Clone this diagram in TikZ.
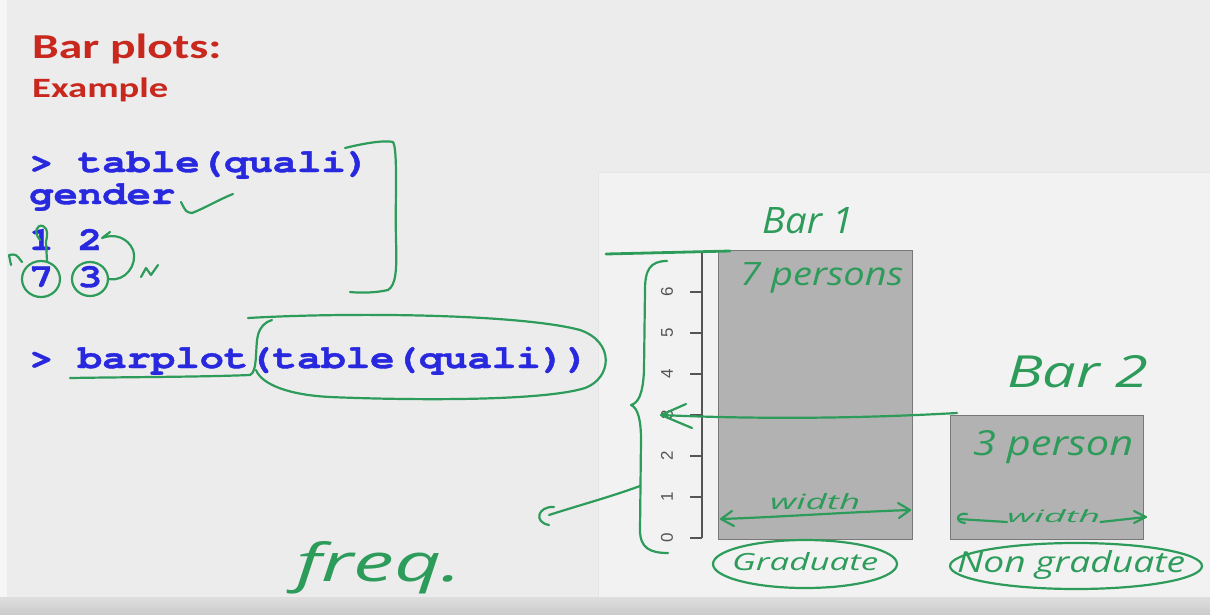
\documentclass[tikz,border=0pt]{standalone}
\usepackage{fontspec}
\usepackage{graphicx}
\usetikzlibrary{shapes.geometric}
\newfontfamily\titlefont{Carlito}
\newfontfamily\codefont{TeX Gyre Cursor}[BoldFeatures={FakeBold=1.2}]
\newfontfamily\axisfont{Liberation Sans}
\newfontfamily\handfont{Open Sans}
\definecolor{slidebg}{RGB}{236,236,236}
\definecolor{panelbg}{RGB}{242,242,242}
\definecolor{titlered}{RGB}{200,40,30}
\definecolor{codeblue}{RGB}{40,40,222}
\definecolor{ink}{RGB}{45,155,90}
\definecolor{barfill}{RGB}{178,178,178}
\definecolor{barline}{RGB}{120,120,120}
\definecolor{axisgray}{RGB}{85,85,85}
% handwritten word, stretched to a given width and height
\newcommand\hw[3]{\resizebox{#1pt}{#2pt}{\handfont\itshape #3}}

\begin{document}
\begin{tikzpicture}[x=1pt,y=-1pt,
  pen/.style={draw=ink,line width=2.2pt,line cap=round,line join=round},
  code/.style={anchor=base west,inner sep=0pt,text=codeblue,
    font=\codefont\bfseries\fontsize{33}{33}\selectfont},
  title/.style={anchor=base west,inner sep=0pt,text=titlered},
  hand/.style={anchor=base west,inner sep=0pt,text=ink},
  bar/.style={fill=barfill,draw=barline,line width=1.4pt,anchor=north west,inner sep=0pt},
  ticklab/.style={rotate=90,inner sep=0pt,text=axisgray,
    font=\axisfont\fontsize{17}{17}\selectfont},
  oval/.style={pen,ellipse,inner sep=0pt}
]
% slide background
\useasboundingbox (0,0) rectangle (1210,614);
\fill[slidebg] (0,0) rectangle (1210,614);
\fill[white!55!slidebg] (0,0) rectangle (7,597);
\fill[panelbg] (598,172) rectangle (1210,597);
\draw[black!10,line width=1pt] (598,597) |- (1210,172);
\shade[top color=black!13,bottom color=black!20] (0,597) rectangle (1210,614);

% title
\node[title,font=\titlefont\bfseries\fontsize{35}{35}\selectfont] (ttl) at (32,58)
  {\scalebox{1.36}[1]{Bar plots:}};
\node[title,font=\titlefont\bfseries\fontsize{28}{28}\selectfont] (sub) at (32,97)
  {\scalebox{1.38}[1]{Example}};

% R console lines
\node[code] (cmd1) at (29,172) {\scalebox{1.23}[1]{> table(quali)}};
\node[code] (hdr) at (29,204) {\scalebox{1.23}[1]{gender}};
\node[code] (lvl) at (29,250) {\scalebox{1.23}[1]{1 2}};
\node[code] (cnt) at (29,287) {\scalebox{1.23}[1]{7 3}};
\node[code] (cmd2) at (29,368) {\scalebox{1.23}[1]{> barplot(table(quali))}};

% bar chart
\draw[axisgray,line width=1.2pt] (702,251) -- (702,538);
\foreach \v in {0,...,6}{
  \draw[axisgray,line width=1.2pt] (690,{538-41*\v}) -- (702,{538-41*\v});
  \node[ticklab] (tick\v) at (667,{538-41*\v}) {\v};
}
\node[bar,minimum width=194pt,minimum height=289pt] (bar1) at (718,250) {};
\node[bar,minimum width=193pt,minimum height=124pt] (bar2) at (950,415) {};

% pen notes on the console
\draw[pen] (181,202) .. controls (186,212) .. (192,213) .. controls (205,208) and (220,199) .. (233,194);
\draw[pen] (40,240) .. controls (33,232) and (37,224) .. (43,226) .. controls (49,229) and (47,236) .. (46,242) -- (47,261);
\draw[pen] (22,262) .. controls (16,254) .. (9,255) (9,255) -- (11,265);
\node[oval,minimum width=38pt,minimum height=36pt] (c7) at (41,279) {};
\node[oval,minimum width=36pt,minimum height=34pt] (c3) at (90,279) {};
\draw[pen] (c3.east) .. controls (125,282) and (138,265) .. (133,250)
  .. controls (128,238) and (115,233) .. (102,238) (102,238) -- (110,232);
\draw[pen] (141,277) -- (146,268) -- (151,275) -- (158,265);
\draw[pen] (345,148) .. controls (365,143) and (385,140) .. (393,142)
  .. controls (398,150) and (395,200) .. (396,240)
  .. controls (397,270) and (396,285) .. (388,290)
  .. controls (375,293) and (360,293) .. (350,292);
\draw[pen] (70,378) .. controls (130,377) and (200,377) .. (250,375)
  .. controls (258,372) and (255,345) .. (258,335)
  .. controls (260,327) and (265,322) .. (272,320);
\draw[pen] (248,318) .. controls (350,312) and (520,314) .. (580,330)
  .. controls (615,342) and (612,378) .. (585,388)
  .. controls (540,402) and (400,400) .. (330,397)
  .. controls (290,395) and (262,385) .. (256,370);
\node[hand] (freq) at (296,581) {\hw{166}{40}{freq.}};

% pen notes on the chart
\coordinate (ymax) at (606,254);
\coordinate (topend) at (730,251);
\draw[pen,line width=2.8pt] (ymax) -- (topend);
\draw[pen] (667,261) .. controls (650,261) and (645,270) .. (645,290) -- (644,370)
  .. controls (643,395) and (638,403) .. (631,405)
  .. controls (638,408) and (641,420) .. (641,440) -- (640,530)
  .. controls (640,548) and (650,553) .. (668,553);
\coordinate (bracefoot) at (640,486);
\coordinate (freqmark) at (549,515);
\draw[pen] (bracefoot) .. controls (610,497) and (580,505) .. (freqmark);
\draw[pen] (554,507) .. controls (538,506) and (533,522) .. (549,525);
\coordinate (b2start) at (957,413);
\coordinate (tip3) at (661,415);
\draw[pen] (b2start) .. controls (850,419) and (750,419) .. (tip3)
  (686,404) -- (tip3) -- (692,428);

\node[hand] (lab1) at (762,233) {\hw{91}{26}{Bar 1}};
\node[hand] (pers7) at (740,285) {\hw{163}{23}{7 persons}};
\node[hand] (lab2) at (1007,387) {\hw{141}{32}{Bar 2}};
\node[hand] (pers3) at (973,455) {\hw{160}{25}{3 person}};

\coordinate (w1l) at (721,519);
\coordinate (w1r) at (910,510);
\draw[pen] (w1l) .. controls (780,517) and (850,512) .. (w1r)
  (732,511) -- (w1l) -- (734,526) (898,503) -- (w1r) -- (899,518);
\node[hand] (wid1) at (770,509) {\hw{90}{16}{width}};
\node[hand] (wid2) at (1007,522) {\hw{93}{13}{width}};
\coordinate (w2l) at (958,519);
\coordinate (w2r) at (1146,517);
\draw[pen] (967,514) .. controls (957,512) and (954,522) .. (965,523);
\draw[pen] (w2l) -- (wid2.base west);
\draw[pen] (wid2.base east) -- (w2r) (1134,511) -- (w2r) -- (1134,523);

\node[hand] (gtext) at (732,570) {\hw{146}{18}{Graduate}};
\node[oval,minimum width=184pt,minimum height=48pt] (goval) at (805,564) {};
\node[hand] (ngtext) at (957,572) {\hw{228}{22}{Non graduate}};
\node[oval,minimum width=252pt,minimum height=46pt] (ngoval) at (1076,566) {};
\end{tikzpicture}
\end{document}
